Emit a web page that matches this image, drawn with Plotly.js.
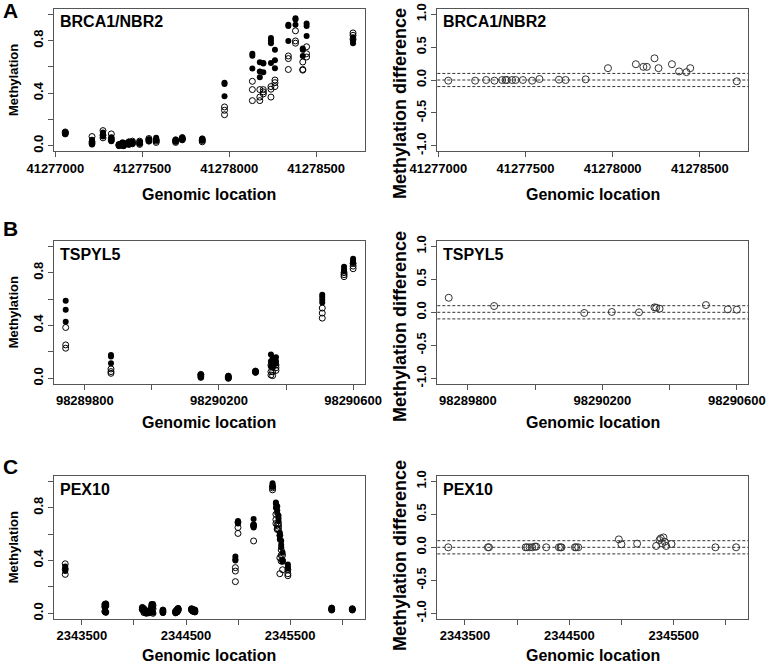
<!DOCTYPE html>
<html>
<head>
<meta charset="utf-8">
<script src="https://cdn.plot.ly/plotly-3.0.1.min.js"></script>
<style>html,body{margin:0;padding:0;background:#fff;}#chart{width:767px;height:665px;}</style>
</head>
<body>
<div id="chart"></div>
<script>
// ---------- DATA ----------
// Panel A: BRCA1/NBR2
const posA = [41277057, 41277211, 41277274, 41277322, 41277366, 41277385, 41277393, 41277423, 41277443, 41277485, 41277538, 41277580, 41277692, 41277730, 41277845, 41277973, 41278133, 41278176, 41278196, 41278240, 41278263, 41278340, 41278381, 41278423, 41278445, 41278712];
const filledA = [[0.10,0.095,0.09],[0.045,0.025,0.01],[0.10,0.085,0.07],[0.065,0.05,0.035],[0.01,0.005,0.0],[0.025,0.01,0.0],[0.015,0.005,0.0],[0.03,0.02,0.01],[0.03,0.025,0.015],[0.03,0.02,0.015],[0.05,0.04,0.035],[0.06,0.05,0.04],[0.045,0.04,0.03],[0.065,0.055,0.045],[0.055,0.045,0.04],[0.48,0.47,0.376],[0.70,0.685,0.587],[0.635,0.564,0.52],[0.63,0.625,0.559],[0.82,0.80,0.78,0.63],[0.73,0.65,0.59],[0.92,0.91,0.797],[0.97,0.96,0.92],[0.74,0.73,0.683],[0.93,0.91,0.835],[0.826,0.80,0.78]];
const openA = [[0.105,0.10,0.09],[0.07,0.03,0.015],[0.115,0.08,0.06],[0.09,0.055,0.04],[0.01,0.005,0.0],[0.02,0.01,0.005],[0.02,0.01,0.0],[0.03,0.015,0.01],[0.035,0.02,0.015],[0.035,0.02,0.01],[0.055,0.045,0.035],[0.045,0.035,0.025],[0.045,0.035,0.025],[0.06,0.05,0.045],[0.05,0.04,0.03],[0.295,0.27,0.236],[0.49,0.427,0.343],[0.427,0.37,0.343],[0.427,0.41,0.394],[0.45,0.43,0.37],[0.50,0.48,0.45],[0.683,0.663,0.58],[0.874,0.797,0.78],[0.637,0.58,0.575],[0.753,0.70,0.675],[0.858,0.84,0.81]];
const diffA = [-0.01,-0.01,0.0,-0.01,0.0,0.0,0.0,0.0,0.0,0.0,-0.01,0.015,0.005,0.0,0.01,0.18,0.24,0.2,0.2,0.33,0.18,0.24,0.13,0.12,0.18,-0.02];

// Panel B: TSPYL5
const posB = [98289743, 98289878, 98290146, 98290228, 98290309, 98290355, 98290360, 98290370, 98290508, 98290573, 98290600];
const filledB = [[0.587,0.519,0.428],[0.177,0.165,0.114],[0.025,0.015,0.005],[0.02,0.01,0.0],[0.055,0.05,0.045],[0.18,0.13,0.09],[0.15,0.12,0.08],[0.16,0.13,0.11],[0.633,0.615,0.595,0.575],[0.845,0.825,0.81],[0.905,0.89,0.875]];
const openB = [[0.385,0.253,0.228],[0.071,0.051,0.038],[0.03,0.025,0.01],[0.015,0.005,0.0],[0.055,0.05,0.045],[0.10,0.05,0.025],[0.09,0.05,0.02],[0.10,0.08,0.06],[0.532,0.494,0.456],[0.80,0.785,0.77],[0.87,0.85,0.83]];
const diffB = [0.22,0.095,-0.01,0.005,0.0,0.075,0.07,0.055,0.11,0.045,0.04];

// Panel C: PEX10
const posC = [2343340, 2343720, 2343730, 2344081, 2344096, 2344119, 2344144, 2344170, 2344183, 2344278, 2344400, 2344415, 2344425, 2344553, 2344565, 2344585, 2344974, 2344999, 2345149, 2345331, 2345363, 2345376, 2345388, 2345401, 2345414, 2345427, 2345478, 2345899, 2346097];
const filledC = [[0.355,0.335,0.32],[0.07,0.05,0.01],[0.075,0.06,0.005],[0.045,0.035,0.025],[0.03,0.02,0.01],[0.015,0.005,0.0],[0.02,0.01,0.0],[0.07,0.055,0.04],[0.07,0.045,0.005],[0.025,0.015,0.005],[0.02,0.01,0.0],[0.03,0.02,0.01],[0.04,0.03,0.02],[0.035,0.03,0.025],[0.03,0.02,0.015],[0.025,0.015,0.01],[0.43,0.41,0.40],[0.70,0.69,0.68],[0.715,0.67,0.65],[0.985,0.97,0.96],[0.84,0.83,0.80],[0.81,0.78,0.76],[0.74,0.72,0.70],[0.61,0.59,0.56],[0.55,0.52,0.50],[0.46,0.40,0.39],[0.37,0.35,0.34],[0.04,0.03,0.025],[0.035,0.03,0.025]];
const openC = [[0.375,0.335,0.295],[0.065,0.05,0.015],[0.07,0.055,0.01],[0.045,0.03,0.03],[0.035,0.02,0.005],[0.01,0.005,0.0],[0.02,0.005,0.005],[0.06,0.045,0.03],[0.06,0.035,0.0],[0.025,0.015,0.005],[0.015,0.01,0.005],[0.03,0.02,0.01],[0.035,0.03,0.025],[0.035,0.03,0.025],[0.03,0.02,0.015],[0.025,0.015,0.01],[0.346,0.32,0.24],[0.69,0.65,0.605],[0.67,0.66,0.548],[0.96,0.95,0.935],[0.75,0.71,0.68],[0.67,0.64,0.635],[0.68,0.66,0.64],[0.59,0.42,0.30],[0.48,0.44,0.395],[0.44,0.40,0.33],[0.33,0.30,0.285],[0.04,0.03,0.025],[0.035,0.03,0.025]];
const diffC = [0,0,0,0,0,0,0,0.01,0.01,0,0,0,0,0,0,0,0.12,0.045,0.055,0.02,0.11,0.135,0.06,0.15,0.085,0.02,0.05,0,0];

const genes = ['BRCA1/NBR2', 'TSPYL5', 'PEX10'];
const panelLetters = ['A', 'B', 'C'];
const xTicksA = [41277000, 41277500, 41278000, 41278500];
const xLabelsA = ['41277000', '41277500', '41278000', '41278500'];
const xTicksB = [98289800, 98290000, 98290200, 98290400, 98290600];
const xLabelsB = ['98289800', '', '98290200', '', '98290600'];
const xTicksC = [2343500, 2344000, 2344500, 2345000, 2345500, 2346000];
const xLabelsC = ['2343500', '', '2344500', '', '2345500', ''];
const yTicksL = [0, 0.2, 0.4, 0.6, 0.8, 1.0];
const yLabelsL = ['0.0', '', '0.4', '', '0.8', ''];
const yTicksR = [-1, -0.5, 0, 0.5, 1];
const yLabelsR = ['-1.0', '-0.5', '0.0', '0.5', '1.0'];
const cutoffs = [-0.1, 0, 0.1];

// ---------- LAYOUT GEOMETRY (pixels) ----------
const W = 767, H = 665;
const FONT = 'Liberation Sans, Arial, Helvetica, sans-serif';
const leftBox = [54.3, 364.5], rightBox = [437.3, 748.3];
const rowBoxes = [[9, 151], [241, 383.6], [476, 618.6]];
const letterY = [11, 228, 466.5];
const diffTitleY = [104, 327, 556];
const xTitleY = [194, 422, null];
const xRanges = [[41276994, 41278778], [98289709, 98290634], [2343235, 2346214]];
const px = v => v / W, py = v => 1 - v / H;

const flat = (pos, groups) => {
  const x = [], y = [];
  groups.forEach((g, i) => g.forEach(v => { x.push(pos[i]); y.push(v); }));
  return {x, y};
};

const rows = [
  {pos: posA, filled: filledA, open: openA, diff: diffA, ticks: xTicksA, labels: xLabelsA},
  {pos: posB, filled: filledB, open: openB, diff: diffB, ticks: xTicksB, labels: xLabelsB},
  {pos: posC, filled: filledC, open: openC, diff: diffC, ticks: xTicksC, labels: xLabelsC}
];

const traces = [];
const layout = {
  width: W, height: H,
  margin: {l: 0, r: 0, t: 0, b: 0},
  paper_bgcolor: '#fff', plot_bgcolor: '#fff',
  showlegend: false,
  font: {family: FONT, color: '#000'},
  annotations: [], shapes: []
};

const axisBase = {
  showline: true, mirror: true, linecolor: '#555', linewidth: 1,
  showgrid: false, zeroline: false,
  ticks: 'outside', ticklen: 5, tickwidth: 1, tickcolor: '#555',
  tickfont: {family: FONT, size: 13, weight: 'bold', color: '#000'},
  tickmode: 'array', fixedrange: true
};

rows.forEach((r, i) => {
  const nL = 2 * i + 1, nR = 2 * i + 2;
  const yb = rowBoxes[i];
  const yDom = [py(yb[1]), py(yb[0])];
  const f = flat(r.pos, r.filled), o = flat(r.pos, r.open);
  const xl = 'x' + (nL === 1 ? '' : nL), yl = 'y' + (nL === 1 ? '' : nL);
  const xr = 'x' + nR, yr = 'y' + nR;
  traces.push({type: 'scatter', mode: 'markers', x: f.x, y: f.y, xaxis: xl, yaxis: yl,
    marker: {symbol: 'circle', size: 6, color: '#000'}, hoverinfo: 'skip'});
  traces.push({type: 'scatter', mode: 'markers', x: o.x, y: o.y, xaxis: xl, yaxis: yl,
    marker: {symbol: 'circle-open', size: 6, color: '#000', line: {width: 1, color: '#000'}}, hoverinfo: 'skip'});
  traces.push({type: 'scatter', mode: 'markers', x: r.pos, y: r.diff, xaxis: xr, yaxis: yr,
    marker: {symbol: 'circle-open', size: 7, color: '#333', line: {width: 1, color: '#333'}}, hoverinfo: 'skip'});

  const xkL = 'xaxis' + (nL === 1 ? '' : nL), ykL = 'yaxis' + (nL === 1 ? '' : nL);
  layout[xkL] = Object.assign({}, axisBase, {domain: [px(leftBox[0]), px(leftBox[1])], range: xRanges[i],
    anchor: yl, tickvals: r.ticks, ticktext: r.labels});
  layout[ykL] = Object.assign({}, axisBase, {domain: yDom, range: [-0.04, 1.04], anchor: xl,
    tickvals: yTicksL, ticktext: yLabelsL, tickangle: -90});
  layout['xaxis' + nR] = Object.assign({}, axisBase, {domain: [px(rightBox[0]), px(rightBox[1])], range: xRanges[i],
    anchor: yr, tickvals: r.ticks, ticktext: r.labels});
  layout['yaxis' + nR] = Object.assign({}, axisBase, {domain: yDom, range: [-1.08, 1.08], anchor: xr,
    tickvals: yTicksR, ticktext: yLabelsR, tickangle: -90});

  cutoffs.forEach(c => layout.shapes.push({type: 'line', xref: xr + ' domain', x0: 0, x1: 1, yref: yr, y0: c, y1: c,
    line: {color: '#333', width: 1, dash: '3px,2px'}}));

  const ymid = (yb[0] + yb[1]) / 2;
  // panel letter
  layout.annotations.push({xref: 'paper', yref: 'paper', x: px(1), y: py(letterY[i]), xanchor: 'left', yanchor: 'middle',
    text: panelLetters[i], showarrow: false, font: {family: FONT, size: 21, weight: 'bold', color: '#000'}});
  // gene labels and x titles
  [leftBox, rightBox].forEach(bx => {
    layout.annotations.push({xref: 'paper', yref: 'paper', x: px(bx[0] + 4), y: py(yb[0] + 13), xanchor: 'left', yanchor: 'middle',
      text: genes[i], showarrow: false, font: {family: FONT, size: 16, weight: 'bold', color: '#000'}});
    const xt = {xref: 'paper', yref: 'paper', x: px((bx[0] + bx[1]) / 2), xanchor: 'center',
      text: 'Genomic location', showarrow: false, font: {family: FONT, size: 16, weight: 'bold', color: '#000'}};
    if (xTitleY[i] === null) { xt.y = 0; xt.yanchor = 'bottom'; xt.yshift = -1; }
    else { xt.y = py(xTitleY[i]); xt.yanchor = 'middle'; }
    layout.annotations.push(xt);
  });
  layout.annotations.push({xref: 'paper', yref: 'paper', x: px(13), y: py(ymid), xanchor: 'center', yanchor: 'middle', textangle: -90,
    text: 'Methylation', showarrow: false, font: {family: FONT, size: 13, weight: 'bold', color: '#000'}});
  layout.annotations.push({xref: 'paper', yref: 'paper', x: px(400), y: py(diffTitleY[i]), xanchor: 'center', yanchor: 'middle', textangle: -90,
    text: 'Methylation difference', showarrow: false, font: {family: FONT, size: 18, weight: 'bold', color: '#000'}});
});

Plotly.newPlot('chart', traces, layout, {displayModeBar: false, staticPlot: true});
</script>
</body>
</html>
